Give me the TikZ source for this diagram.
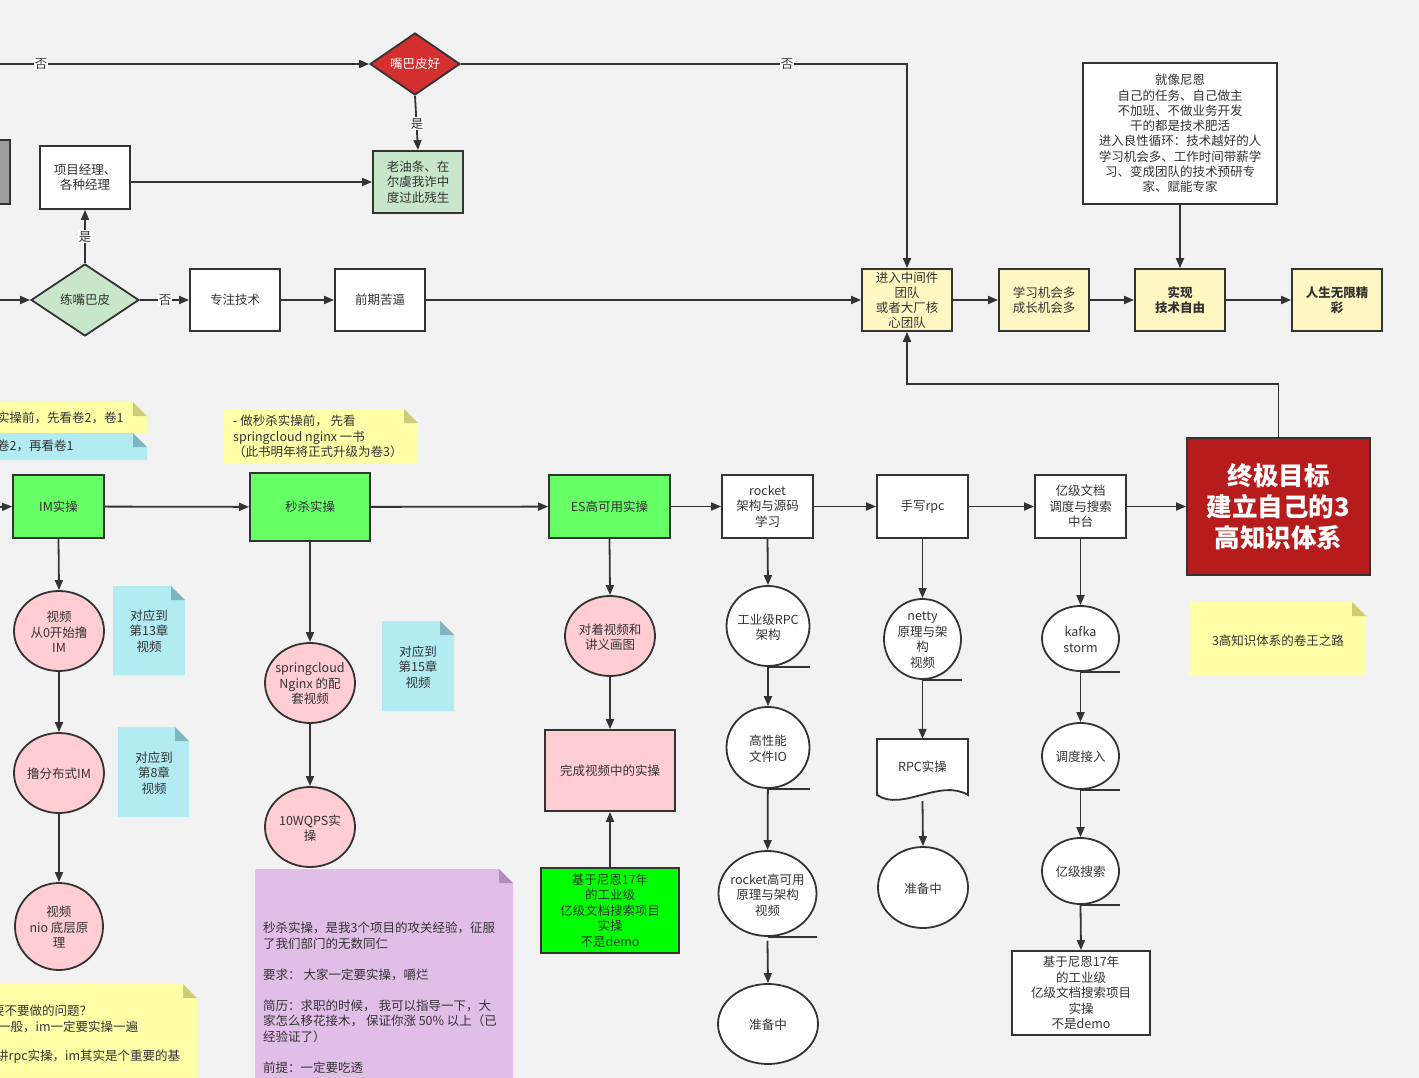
\documentclass[tikz,border=0pt]{standalone}
\usepackage{fontspec}
\setmainfont{Noto Sans CJK SC}
\usetikzlibrary{arrows.meta,shapes.geometric}
\definecolor{bgc}{HTML}{F2F2F2}
\definecolor{lnc}{HTML}{333333}
\definecolor{txc}{HTML}{333333}
\definecolor{ylwbox}{HTML}{FFF7C2}
\definecolor{notey}{HTML}{FFFFA8}
\definecolor{noteyf}{HTML}{CDCD78}
\definecolor{notec}{HTML}{B2EBF2}
\definecolor{notecf}{HTML}{7FB5BE}
\definecolor{notep}{HTML}{E1BEE7}
\definecolor{notepf}{HTML}{B18CBD}
\definecolor{pinkc}{HTML}{FFCDD2}
\definecolor{lgreen}{HTML}{C8E6C9}
\definecolor{limec}{HTML}{66FF66}
\definecolor{brgreen}{HTML}{00FF00}
\definecolor{redc}{HTML}{D32F2F}
\definecolor{dredc}{HTML}{B71C1C}
\definecolor{grayc}{HTML}{9E9E9E}
\newcommand{\fsn}{\fontsize{12.5}{15.5}\selectfont}
\newcommand{\mynote}[6]{%
  \fill[#5] (#1,#2) -- ({#3-14},#2) -- (#3,{#2+14}) -- (#3,#4) -- (#1,#4) -- cycle;
  \fill[#6] ({#3-14},#2) -- (#3,{#2+14}) -- ({#3-14},{#2+14}) -- cycle;}
\begin{document}
\begin{tikzpicture}[x=1pt,y=-1pt,
  bx/.style={rectangle, draw=lnc, line width=1.8pt, minimum width=90pt, minimum height=62pt, inner sep=0pt, align=center, font=\fsn, text=txc, fill=white},
  dm/.style={diamond, draw=lnc, line width=1.8pt, inner sep=0pt, aspect=1.45, align=center, font=\fsn, text=txc},
  el/.style={ellipse, draw=lnc, line width=1.8pt, inner sep=0pt, fill=white},
  tx/.style={align=center, font=\fsn, text=txc, inner sep=0pt},
  ln/.style={draw=lnc, line width=1.8pt},
  ar/.style={ln, -{Triangle[length=10pt,width=8pt]}},
  lb/.style={fill=white, inner sep=1pt, font=\fsn, text=txc}]
\useasboundingbox (0,0) rectangle (1419,1078);
\fill[bgc] (0,0) rectangle (1419,1078);
\clip (0,0) rectangle (1419,1078);

% ---------- notes ----------
\mynote{-10}{402}{147}{433}{notey}{noteyf}
\mynote{-10}{433}{147}{460}{notec}{notecf}
\mynote{224}{409}{418}{463}{notey}{noteyf}
\mynote{113}{586}{185}{675}{notec}{notecf}
\mynote{118}{727}{189}{817}{notec}{notecf}
\mynote{382}{621}{454}{711}{notec}{notecf}
\mynote{255}{869}{513}{1095}{notep}{notepf}
\mynote{-10}{984}{197}{1095}{notey}{noteyf}
\mynote{1189}{602}{1366}{675}{notey}{noteyf}

\node[tx, anchor=west] (t1) at (-3,418) {实操前，先看卷2，卷1};
\node[tx, anchor=west] (t2) at (-3,446) {卷2，再看卷1};
\node[tx, anchor=north west, align=left] (t3) at (233,415) {- 做秒杀实操前， 先看\\springcloud nginx 一书\\（此书明年将正式升级为卷3）};
\node[tx] (t4) at (149,631) {对应到\\第13章\\视频};
\node[tx] (t5) at (154,773) {对应到\\第8章\\视频};
\node[tx] (t6) at (418,667) {对应到\\第15章\\视频};
\node[tx, anchor=north west, align=left] (t7) at (263,922) {秒杀实操，是我3个项目的攻关经验，征服\\了我们部门的无数同仁\\\mbox{}\\要求： 大家一定要实操，嚼烂\\\mbox{}\\简历：求职的时候， 我可以指导一下，大\\家怎么移花接木， 保证你涨 50\% 以上（已\\经验证了）\\\mbox{}\\前提：一定要吃透};
\node[tx, anchor=west] (t8a) at (-8,1011) {要不要做的问题？};
\node[tx, anchor=west] (t8b) at (-2,1027) {一般，im一定要实操一遍};
\node[tx, anchor=west] (t8c) at (-4,1057) {讲rpc实操，im其实是个重要的基};
\node[tx] (t9) at (1278,641) {3高知识体系的卷王之路};

% ---------- top part ----------
\node[dm, fill=redc, text=white, minimum width=90pt, minimum height=62pt] (d1) at (415,64) {嘴巴皮好};
\node[bx, fill=lgreen] (oldb) at (418,182) {老油条、在\\尔虞我诈中\\度过此残生};
\node[bx, fill=grayc, minimum width=30pt, minimum height=64pt] (gb) at (-5,172) {};
\node[bx, minimum height=63pt] (pm) at (85,177.5) {项目经理、\\各种经理};
\node[dm, fill=lgreen, minimum width=108pt, minimum height=72pt] (d2) at (85,300) {练嘴巴皮};
\node[bx] (focus) at (235,300) {专注技术};
\node[bx] (early) at (380,300) {前期苦逼};
\node[bx, fill=ylwbox, font=\fontsize{12.5}{15}\selectfont] (mid) at (907,300) {进入中间件\\团队\\或者大厂核\\心团队};
\node[bx, fill=ylwbox] (learn) at (1044,300) {学习机会多\\成长机会多};
\node[bx, fill=ylwbox, font=\fsn\bfseries] (free) at (1180,300) {实现\\技术自由};
\node[bx, fill=ylwbox, font=\fsn\bfseries] (life) at (1337,300) {人生无限精\\彩};
\node[bx, minimum width=194pt, minimum height=141pt, font=\fontsize{12.5}{15.3}\selectfont] (nien) at (1180,133.5) {就像尼恩\\自己的任务、自己做主\\不加班、不做业务开发\\干的都是技术肥活\\进入良性循环：技术越好的人\\学习机会多、工作时间带薪学\\习、变成团队的技术预研专\\家、赋能专家};

% ---------- middle row ----------
\node[bx, fill=limec, minimum width=91pt, minimum height=63pt] (im) at (58.5,506.5) {IM实操};
\node[bx, fill=limec, minimum width=120pt, minimum height=68pt] (ms) at (310,507) {秒杀实操};
\node[bx, fill=limec, minimum width=121pt, minimum height=63pt] (es) at (609.5,506.5) {ES高可用实操};
\node[bx, minimum width=91pt, minimum height=63pt] (rk) at (767.5,506.5) {rocket\\架构与源码\\学习};
\node[bx, minimum width=91pt, minimum height=63pt] (rpc) at (922.5,506.5) {手写rpc};
\node[bx, minimum width=91pt, minimum height=63pt] (doc) at (1080.5,506.5) {亿级文档\\调度与搜索\\中台};
\node[bx, fill=dredc, text=white, minimum width=183pt, minimum height=137pt, font=\fontsize{25.5}{31}\selectfont\bfseries] (goal) at (1278.5,506.5) {终极目标\\建立自己的3\\高知识体系};

% ---------- IM column ----------
\node[el, fill=pinkc, minimum width=90pt, minimum height=80pt] (c1) at (59,631) {};
\node[tx] (c1t) at (59,632) {视频\\从0开始撸\\IM};
\node[el, fill=pinkc, minimum width=90pt, minimum height=80pt] (c2) at (59,773) {};
\node[tx] (c2t) at (59,774) {撸分布式IM};
\node[el, fill=pinkc, minimum width=88pt, minimum height=87pt] (c3) at (59,926.5) {};
\node[tx] (c3t) at (59,927.5) {视频\\nio 底层原\\理};

% ---------- seckill column ----------
\node[el, fill=pinkc, minimum width=90pt, minimum height=80pt] (s1) at (310,683) {};
\node[tx] (s1t) at (310,684) {springcloud\\Nginx 的配\\套视频};
\node[el, fill=pinkc, minimum width=90pt, minimum height=80pt] (s2) at (310,827) {};
\node[tx] (s2t) at (310,828) {10WQPS实\\操};

% ---------- ES column ----------
\node[el, fill=pinkc, minimum width=90pt, minimum height=80pt] (e1) at (610,636) {};
\node[tx] (e1t) at (610,637) {对着视频和\\讲义画图};
\node[bx, fill=pinkc, minimum width=130pt, minimum height=81pt] (e2) at (610,770.5) {完成视频中的实操};
\node[bx, fill=brgreen, minimum width=138pt, minimum height=85pt] (e3) at (610,910.5) {基于尼恩17年\\的工业级\\亿级文档搜索项目\\实操\\不是demo};

% ---------- rocket column ----------
\node[el, minimum width=83pt, minimum height=80pt] (r1) at (768,626) {};
\node[tx] (r1t) at (768,627) {工业级RPC\\架构};
\node[el, minimum width=83pt, minimum height=81pt] (r2) at (768,747.5) {};
\node[tx] (r2t) at (768,748.5) {高性能\\文件IO};
\node[el, minimum width=98pt, minimum height=85pt] (r3) at (767.5,893.5) {};
\node[tx] (r3t) at (767.5,895) {rocket高可用\\原理与架构\\视频};
\node[el, minimum width=100pt, minimum height=80pt] (r4) at (768,1024) {};
\node[tx] (r4t) at (768,1025) {准备中};

% ---------- rpc column ----------
\node[el, minimum width=77pt, minimum height=80pt] (n1) at (922.5,639) {};
\node[tx] (n1t) at (922.5,640) {netty\\原理与架\\构\\视频};
\draw[ln, fill=white] (877,739) -- (968,739) -- (968,795) .. controls (940,778) and (902,812) .. (877,795) -- cycle;
\node[tx, minimum width=91pt, minimum height=56pt] (n2) at (922.5,767) {RPC实操};
\node[el, minimum width=90pt, minimum height=81pt] (n3) at (923,887.5) {};
\node[tx] (n3t) at (923,888.5) {准备中};

% ---------- search column ----------
\node[el, minimum width=77pt, minimum height=65pt] (k1) at (1080.5,638.5) {};
\node[tx] (k1t) at (1080.5,639.5) {kafka\\storm};
\node[el, minimum width=77pt, minimum height=66pt] (k2) at (1080.5,756) {};
\node[tx] (k2t) at (1080.5,757) {调度接入};
\node[el, minimum width=77pt, minimum height=66pt] (k3) at (1080.5,871) {};
\node[tx] (k3t) at (1080.5,872) {亿级搜索};
\node[bx, minimum width=138pt, minimum height=84pt] (k4) at (1081,993) {基于尼恩17年\\的工业级\\亿级文档搜索项目\\实操\\不是demo};

% tape tails
\foreach \n in {r1,r2,r3,n1,k1,k2,k3} {\draw[ln] (\n.south) -- (\n.south -| \n.east);}

% ---------- connectors ----------
\coordinate (in1) at (0,64);
\coordinate (in2) at (0,300);
\coordinate (in3) at (0,507);
\coordinate (bend) at (1278.5,384);
\draw[ar] (in1) -- (d1.west);
\draw[ar] (d1.east) -| (mid.north);
\draw[ar] (d1.south) -- (oldb.north);
\draw[ar] (pm.east |- oldb.west) -- (oldb.west);
\draw[ar] (d2.north) -- (pm.south);
\draw[ar] (in2) -- (d2.west);
\draw[ar] (d2.east) -- (focus.west);
\draw[ar] (focus) -- (early);
\draw[ar] (early) -- (mid);
\draw[ar] (mid) -- (learn);
\draw[ar] (learn) -- (free);
\draw[ar] (free) -- (life);
\draw[ar] (nien.south) -- (free.north);
\draw[ar] (goal.north) -- (bend) -| (mid.south);

\draw[ar] (in3) -- (im.west);
\draw[ar] (im) -- (ms);
\draw[ar] (ms) -- (es);
\draw[ar] (es) -- (rk);
\draw[ar] (rk) -- (rpc);
\draw[ar] (rpc) -- (doc);
\draw[ar] (doc) -- (doc -| goal.west);

\draw[ar] (im.south) -- (c1.north);
\draw[ar] (c1) -- (c2);
\draw[ar] (c2) -- (c3);
\draw[ar] (ms.south) -- (s1.north);
\draw[ar] (s1) -- (s2);
\draw[ar] (es.south) -- (e1.north);
\draw[ar] (e1) -- (e2);
\draw[ar] (e3.north) -- (e2.south);
\draw[ar] (rk.south) -- (r1.north);
\draw[ar] (r1) -- (r2);
\draw[ar] (r2) -- (r3);
\draw[ar] ([yshift=-4pt]r3.south) -- (r4.north);
\draw[ar] (rpc.south) -- (n1.north);
\draw[ar] (n1.south) -- (n2.north);
\draw[ar] ([yshift=-6pt]n2.south) -- (n3.north);
\draw[ar] (doc.south) -- (k1.north);
\draw[ar] (k1) -- (k2);
\draw[ar] (k2) -- (k3);
\draw[ar] (k3.south) -- (k4.north);

% labels
\node[lb] (l1) at (41,64) {否};
\node[lb] (l2) at (787,64) {否};
\node[lb] (l3) at (417,124) {是};
\node[lb] (l4) at (85,237) {是};
\node[lb] (l5) at (165,300) {否};
\end{tikzpicture}
\end{document}
